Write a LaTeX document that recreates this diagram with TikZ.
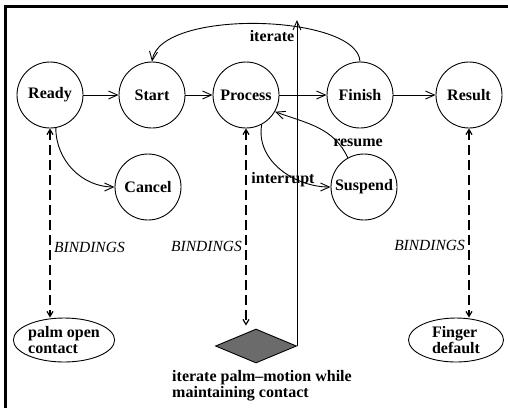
\documentclass[tikz,border=0pt]{standalone}
\usepackage{fontspec}
\setmainfont{Liberation Serif}
\usetikzlibrary{shapes.geometric,arrows.meta}

\begin{document}
\begin{tikzpicture}[x=1pt,y=-1pt,line width=0.9pt,
    >={Straight Barb[length=9pt,width=8pt]},
    state/.style={draw,circle,minimum size=66pt,inner sep=0pt,
                  font=\fontsize{16}{16}\selectfont\bfseries},
    gesture/.style={draw,ellipse,minimum width=95pt,minimum height=44pt,
                    inner sep=0pt,align=left,font=\fontsize{16}{16}\selectfont\bfseries},
    bind/.style={line width=2.3pt,dash pattern=on 10pt off 5pt,
                 {Straight Barb[length=5pt,width=6pt,line width=1.2pt]}-{Straight Barb[length=5pt,width=6pt,line width=1.2pt]}},
    lbl/.style={inner sep=1pt,font=\fontsize{16}{16}\selectfont\bfseries},
    bindlbl/.style={inner sep=3pt,font=\fontsize{15.5}{16}\selectfont\itshape}]
    \useasboundingbox (0,0) rectangle (508,408);
    \draw[line width=3pt] (508,6.5) -- (5.5,6.5) -- (5.5,408);

    % states
    \node[state] (ready)   at (50,95)   {Ready};
    \node[state] (start)   at (152,95)  {Start};
    \node[state] (process) at (246,95)  {Process};
    \node[state] (finish)  at (360,95)  {Finish};
    \node[state] (result)  at (469,95)  {Result};
    \node[state] (cancel)  at (148,187) {Cancel};
    \node[state] (suspend) at (364,187) {Suspend};

    % gestures
    \node[gesture] (palm)   at (64,340)  {palm open\\contact};
    \node[gesture] (finger) at (456,340) {Finger\\default};
    \node[draw,diamond,fill=black!58,minimum width=81pt,minimum height=34pt,
          inner sep=0pt] (motion) at (256,346) {};
    \node[lbl,align=left] (motionlbl) at (262,386)
          {iterate palm--motion while\\maintaining contact};

    % transitions
    \draw[->] (ready) -- (start);
    \draw[->] (start) -- (process);
    \draw[->] (process) -- (finish);
    \draw[->] (finish) -- (result);
    \draw[->] (finish.north) .. controls (358,14) and (160,8) .. (start.north);
    \node[lbl] (iterlbl) at (272,36) {iterate};
    \draw[->] (ready.-80) to[out=-90,in=180] (cancel.west);
    \draw[->] (process.-62) to[out=-100,in=180] (suspend.west);
    \node[lbl] (intlbl) at (283,180) {interrupt};
    \draw[->] (suspend.119) to[out=115,in=-20] (process.-30);
    \node[lbl] (reslbl) at (358,143) {resume};

    \coordinate (top) at (297,20);
    \draw[->] (motion.east) -- (motion.east |- top);

    % bindings
    \draw[bind] (ready.south) -- (ready.south |- palm.north)
          node[bindlbl,pos=0.63,right] (b1) {BINDINGS};
    \draw[bind] (process.south) -- ([yshift=3pt]process.south |- motion.north)
          node[bindlbl,pos=0.6,left] (b2) {BINDINGS};
    \draw[bind] (result.south) -- (result.south |- finger.north)
          node[bindlbl,pos=0.62,left] (b3) {BINDINGS};
\end{tikzpicture}
\end{document}
